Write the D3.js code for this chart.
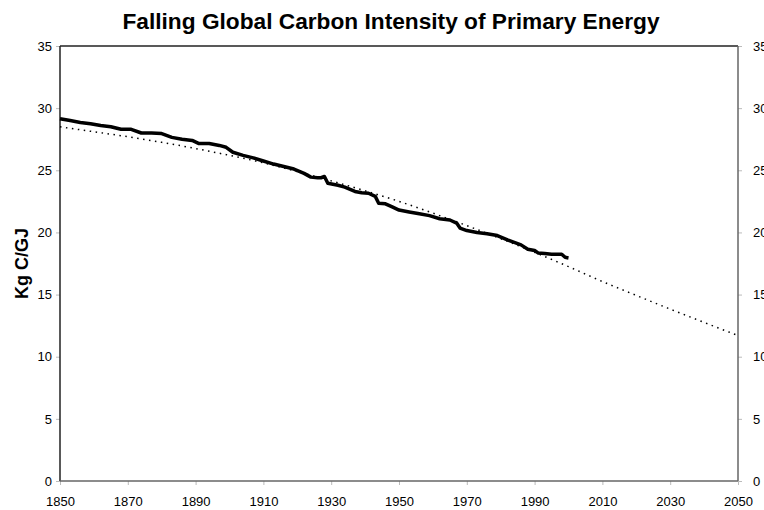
<!DOCTYPE html>
<html>
<head>
<meta charset="utf-8">
<script src="https://cdn.jsdelivr.net/npm/d3@7"></script>
<style>
  body { margin: 0; background: #fff; }
  text { font-family: "Liberation Sans", Arial, sans-serif; }
  .tick text { font-size: 13px; fill: #000; }
</style>
</head>
<body>
<svg width="764" height="510"></svg>
<script>
var svg = d3.select("svg"),
    margin = {top: 46, right: 26, bottom: 29, left: 60},
    width = 764 - margin.left - margin.right,
    height = 510 - margin.top - margin.bottom,
    g = svg.append("g").attr("transform", "translate(" + margin.left + "," + margin.top + ")");

// observed carbon intensity (kg C / GJ)
var obsYears = [1850, 1853, 1856, 1859, 1862, 1865, 1868, 1871, 1874, 1877, 1880, 1883, 1886, 1889,
  1891, 1894, 1897, 1899, 1901, 1904, 1907, 1910, 1913, 1916, 1919, 1922, 1924, 1926, 1927, 1928,
  1929, 1932, 1934, 1937, 1939, 1941, 1943, 1944, 1946, 1948, 1950, 1953, 1956, 1959, 1962, 1965,
  1967, 1968, 1970, 1973, 1976, 1979, 1982, 1984, 1986, 1988, 1990, 1991, 1993, 1995, 1998, 1999, 2000];
var obsValues = [29.15, 29.0, 28.85, 28.75, 28.6, 28.5, 28.3, 28.3, 28.0, 28.0, 27.95, 27.65, 27.5, 27.4,
  27.15, 27.15, 27.0, 26.85, 26.45, 26.2, 26.0, 25.75, 25.5, 25.3, 25.1, 24.75, 24.45, 24.4, 24.4, 24.5,
  23.95, 23.8, 23.65, 23.3, 23.2, 23.15, 22.9, 22.35, 22.3, 22.05, 21.8, 21.65, 21.5, 21.35, 21.1, 21.0,
  20.75, 20.35, 20.15, 20.0, 19.9, 19.75, 19.4, 19.2, 19.0, 18.65, 18.55, 18.35, 18.3, 18.25, 18.25, 18.0, 17.95];

// fitted trend (dotted)
var trendYears = [1850, 1860, 1870, 1880, 1890, 1900, 1910, 1920, 1930, 1940, 1950,
  1960, 1970, 1980, 1990, 2000, 2010, 2020, 2030, 2040, 2050];
var trendValues = [28.5, 28.1, 27.7, 27.25, 26.75, 26.2, 25.6, 24.9, 24.15, 23.35, 22.5,
  21.55, 20.55, 19.5, 18.4, 17.25, 16.05, 14.93, 13.83, 12.76, 11.7];

var xTicks = [1850, 1870, 1890, 1910, 1930, 1950, 1970, 1990, 2010, 2030, 2050];
var yTicks = [0, 5, 10, 15, 20, 25, 30, 35];

var x = d3.scaleLinear().domain([1850, 2050]).range([0, width]),
    y = d3.scaleLinear().domain([0, 35]).range([height, 0]);

var line = d3.line()
    .x(function(d) { return x(d[0]); })
    .y(function(d) { return y(d[1]); });

// Title
svg.append("text")
    .attr("x", 391)
    .attr("y", 29)
    .attr("text-anchor", "middle")
    .style("font-size", "22.7px")
    .style("font-weight", "bold")
    .text("Falling Global Carbon Intensity of Primary Energy");

// Y label
svg.append("text")
    .attr("transform", "translate(28," + (margin.top + height / 2) + ") rotate(-90)")
    .attr("text-anchor", "middle")
    .style("font-size", "18px")
    .style("font-weight", "bold")
    .text("Kg C/GJ");

// Axes
var xAxis = g.append("g")
    .attr("transform", "translate(0," + height + ")")
    .call(d3.axisBottom(x).tickValues(xTicks).tickFormat(d3.format("d")).tickSize(4).tickPadding(12));

var yAxis = g.append("g")
    .call(d3.axisLeft(y).tickValues(yTicks).tickSize(4).tickPadding(4));

var yAxisR = g.append("g")
    .attr("transform", "translate(" + width + ",0)")
    .call(d3.axisRight(y).tickValues(yTicks).tickSize(4).tickPadding(11));

[xAxis, yAxis, yAxisR].forEach(function(a) {
  a.select(".domain").remove();
  a.selectAll(".tick line").attr("stroke", "#bbb");
});

// Frame
g.append("line").attr("x1", 0).attr("x2", width).attr("y1", 0).attr("y2", 0)
    .attr("stroke", "#222").attr("stroke-width", 1.5);
g.append("line").attr("x1", 0).attr("x2", 0).attr("y1", 0).attr("y2", height)
    .attr("stroke", "#222").attr("stroke-width", 1.5);
g.append("line").attr("x1", 0).attr("x2", width).attr("y1", height).attr("y2", height)
    .attr("stroke", "#666").attr("stroke-width", 1.5);
g.append("line").attr("x1", width).attr("x2", width).attr("y1", 0).attr("y2", height)
    .attr("stroke", "#666").attr("stroke-width", 1.5);

// Trend
g.append("path")
    .datum(d3.zip(trendYears, trendValues))
    .attr("fill", "none")
    .attr("stroke", "#000")
    .attr("stroke-width", 1.5)
    .attr("stroke-dasharray", "1.5,4.5")
    .attr("d", line.curve(d3.curveMonotoneX));

// Observed
g.append("path")
    .datum(d3.zip(obsYears, obsValues))
    .attr("fill", "none")
    .attr("stroke", "#000")
    .attr("stroke-width", 3.5)
    .attr("stroke-linejoin", "round")
    .attr("d", line.curve(d3.curveLinear));
</script>
</body>
</html>
